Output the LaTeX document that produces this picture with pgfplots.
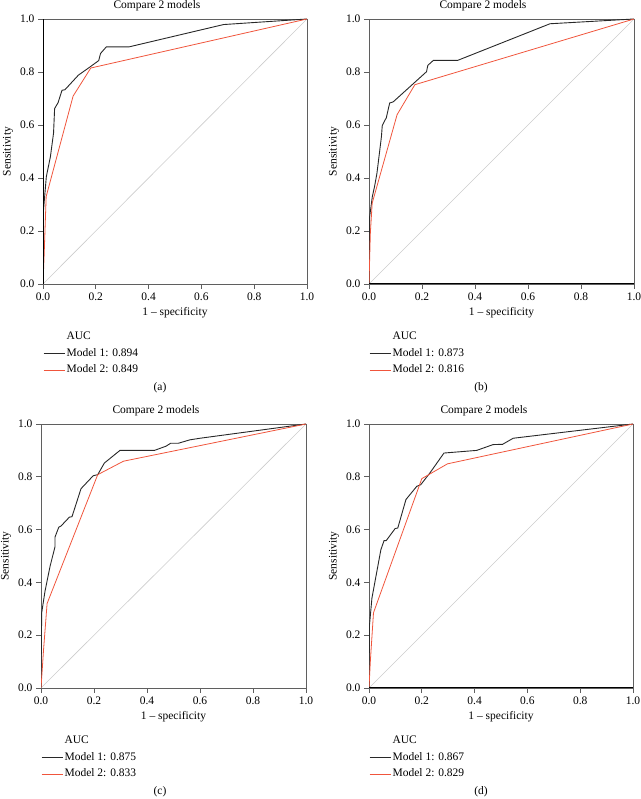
\documentclass[border=0pt]{standalone}
\usepackage{fontspec}
\setmainfont{Liberation Serif}
\usepackage{pgfplots}
\pgfplotsset{compat=1.18}

\definecolor{mone}{RGB}{40,40,40}
\definecolor{mtwo}{RGB}{240,85,60}
\definecolor{framec}{RGB}{95,95,95}
\newcommand{\fs}{\fontsize{11.5}{13.5}\selectfont}

\pgfplotsset{
  rocax/.style={
    scale only axis, width=264pt, height=265pt,
    xmin=0, xmax=1, ymin=0, ymax=1,
    xtick={0,0.2,0.4,0.6,0.8,1}, ytick={0,0.2,0.4,0.6,0.8,1},
    /pgf/number format/fixed, /pgf/number format/fixed zerofill,
    /pgf/number format/precision=1,
    /pgf/number format/assume math mode=true,
    tick align=outside, xtick pos=bottom, ytick pos=left,
    major tick length=5pt,
    tick style={framec, line width=0.8pt},
    axis line style={framec, line width=0.9pt},
    tick label style={font=\fs},
    xlabel={1 -- specificity}, ylabel={Sensitivity},
    every axis x label/.style={at={(axis description cs:0.5,-0.109)}, anchor=center, font=\fs},
    every axis y label/.style={at={(axis description cs:-0.132,0.5)}, anchor=center, rotate=90, font=\fs},
    legend style={at={(axis description cs:0,0)}, anchor=north west, yshift=-46pt, xshift=0pt,
      draw=none, fill=none, font=\fs, inner sep=0pt, row sep=3pt,
      nodes={inner sep=1.5pt, text height=8pt, text depth=2.5pt}},
    legend cell align=left,
    legend image code/.code={\draw[##1] (-1pt,0pt) -- (20pt,0pt);},
    legend style={/tikz/every even column/.append style={column sep=2.5pt}},
  },
  m1/.style={mone, line width=0.9pt},
  m2/.style={mtwo, line width=0.8pt},
  diag/.style={gray!40, line width=0.6pt, forget plot},
}

\begin{document}
\begin{tikzpicture}[font=\fs]
\path[use as bounding box] (0pt,0pt) rectangle (640pt,799pt);

% (a)
\begin{axis}[rocax, at={(43pt,515pt)}, anchor=south west]
\addplot[diag] coordinates {(0,0) (1,1)};
\addlegendimage{empty legend}\addlegendentry{AUC}
\addplot[m1] coordinates {(0,0) (0.002,0.28) (0.0126,0.405) (0.028,0.48) (0.04,0.57) (0.044,0.662) (0.057,0.684) (0.072,0.731) (0.083,0.733) (0.134,0.788) (0.178,0.819) (0.211,0.843) (0.218,0.87) (0.24,0.895) (0.327,0.895) (0.684,0.979) (1,1)};
\addlegendentry{Model 1: 0.894}
\addplot[m2] coordinates {(0,0) (0.004,0.1) (0.012,0.33) (0.114,0.709) (0.181,0.815) (1,1)};
\addlegendentry{Model 2: 0.849}
\draw[black, line width=1.3pt] (axis cs:0,0) -- (axis cs:0,1);
\end{axis}

% (b)
\begin{axis}[rocax, at={(369pt,515pt)}, anchor=south west, width=265pt]
\addplot[diag] coordinates {(0,0) (1,1)};
\addlegendimage{empty legend}\addlegendentry{AUC}
\addplot[m1] coordinates {(0,0) (0.0025,0.254) (0.0126,0.33) (0.021,0.368) (0.03,0.418) (0.047,0.557) (0.05,0.598) (0.06,0.618) (0.065,0.626) (0.078,0.683) (0.091,0.687) (0.217,0.801) (0.222,0.825) (0.243,0.844) (0.335,0.844) (0.683,0.982) (1,1)};
\addlegendentry{Model 1: 0.873}
\addplot[m2] coordinates {(0,0) (0.005,0.19) (0.012,0.305) (0.106,0.639) (0.173,0.752) (1,1)};
\addlegendentry{Model 2: 0.816}
\draw[black, line width=1.2pt] (axis cs:0,0) -- (axis cs:1,0);
\end{axis}

% (c)
\begin{axis}[rocax, at={(41pt,111pt)}, anchor=south west, width=265pt, height=264pt]
\addplot[diag] coordinates {(0,0) (1,1)};
\addlegendimage{empty legend}\addlegendentry{AUC}
\addplot[m1] coordinates {(0,0) (0.0025,0.284) (0.015,0.366) (0.034,0.46) (0.053,0.536) (0.053,0.572) (0.067,0.609) (0.075,0.613) (0.107,0.647) (0.117,0.649) (0.151,0.755) (0.197,0.804) (0.214,0.808) (0.239,0.852) (0.298,0.9) (0.428,0.9) (0.472,0.916) (0.489,0.927) (0.518,0.927) (0.562,0.94) (0.6,0.946) (1,1)};
\addlegendentry{Model 1: 0.875}
\addplot[m2] coordinates {(0,0) (0.01,0.15) (0.023,0.32) (0.214,0.808) (0.311,0.859) (1,1)};
\addlegendentry{Model 2: 0.833}
\end{axis}

% (d)
\begin{axis}[rocax, at={(369pt,111pt)}, anchor=south west, height=264pt]
\addplot[diag] coordinates {(0,0) (1,1)};
\addlegendimage{empty legend}\addlegendentry{AUC}
\addplot[m1] coordinates {(0,0) (0.002,0.24) (0.011,0.34) (0.045,0.524) (0.057,0.558) (0.065,0.558) (0.099,0.604) (0.109,0.606) (0.14,0.714) (0.181,0.764) (0.196,0.77) (0.231,0.815) (0.284,0.89) (0.408,0.9) (0.47,0.922) (0.506,0.923) (0.546,0.946) (1,1)};
\addlegendentry{Model 1: 0.867}
\addplot[m2] coordinates {(0,0) (0.005,0.1) (0.017,0.285) (0.2,0.793) (0.297,0.849) (1,1)};
\addlegendentry{Model 2: 0.829}
\draw[black, line width=1.2pt] (axis cs:0,0) -- (axis cs:1,0);
\end{axis}

% titles and panel captions
\node at (157pt,793pt) {Compare 2 models};
\node at (483pt,793pt) {Compare 2 models};
\node at (156pt,388pt) {Compare 2 models};
\node at (484pt,388pt) {Compare 2 models};
\node at (160pt,411pt) {(a)};
\node at (481pt,411pt) {(b)};
\node at (160pt,7pt) {(c)};
\node at (481pt,7pt) {(d)};
\end{tikzpicture}
\end{document}
